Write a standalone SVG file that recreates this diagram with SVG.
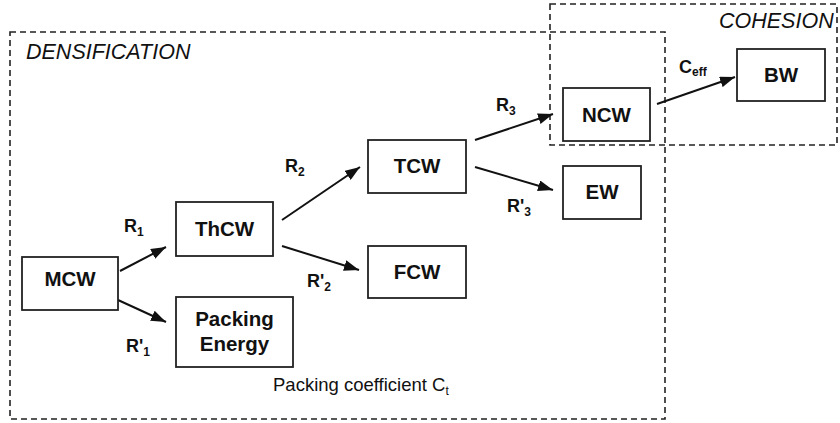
<svg xmlns="http://www.w3.org/2000/svg" width="840" height="423" viewBox="0 0 840 423">
<defs>
<marker id="ah" markerUnits="userSpaceOnUse" markerWidth="15" markerHeight="11" refX="15" refY="5.5" orient="auto">
<path d="M0,0 L15,5.5 L0,11 z" fill="#111"/>
</marker>
<style>
.box{fill:#fff;stroke:#222;stroke-width:1.8}
.zone{fill:none;stroke:#222;stroke-width:1.6;stroke-dasharray:6 4}
.nt{font-family:"Liberation Sans",Arial,sans-serif;font-weight:bold;font-size:20.5px;fill:#111;text-anchor:middle}
.lb{font-family:"Liberation Sans",Arial,sans-serif;font-weight:bold;font-size:18px;fill:#111}
.sub{font-size:12px}
.zt{font-family:"Liberation Sans",Arial,sans-serif;font-style:italic;font-size:21.5px;fill:#111}
.pc{font-family:"Liberation Sans",Arial,sans-serif;font-size:18.5px;fill:#111}
.ar{stroke:#111;stroke-width:2;fill:none;marker-end:url(#ah)}
</style>
</defs>
<g id="zones">
<rect class="zone" x="10" y="32" width="655" height="387"/>
<rect class="zone" x="550" y="4" width="287" height="141"/>
<text class="zt" x="26" y="59">DENSIFICATION</text>
<text class="zt" x="719" y="28">COHESION</text>
<text class="pc" x="273" y="391">Packing coefficient C<tspan class="sub" dy="4">t</tspan></text>
</g>
<g id="connectors">
<line class="ar" x1="120" y1="271" x2="166" y2="247"/>
<line class="ar" x1="118" y1="300" x2="166" y2="322"/>
<line class="ar" x1="282" y1="220" x2="360" y2="167"/>
<line class="ar" x1="282" y1="246" x2="359" y2="270"/>
<line class="ar" x1="475" y1="140" x2="553" y2="114"/>
<line class="ar" x1="475" y1="167" x2="553" y2="190"/>
<line class="ar" x1="657" y1="104" x2="735" y2="77"/>
<text class="lb" x="124" y="232">R<tspan class="sub" dy="4">1</tspan></text>
<text class="lb" x="126" y="352">R'<tspan class="sub" dy="4">1</tspan></text>
<text class="lb" x="285" y="172">R<tspan class="sub" dy="4">2</tspan></text>
<text class="lb" x="307" y="287">R'<tspan class="sub" dy="4">2</tspan></text>
<text class="lb" x="496" y="111">R<tspan class="sub" dy="4">3</tspan></text>
<text class="lb" x="507" y="212">R'<tspan class="sub" dy="4">3</tspan></text>
<text class="lb" x="679" y="73">C<tspan class="sub" dy="3">eff</tspan></text>
</g>
<g id="MCW"><rect class="box" x="22" y="257" width="96" height="53"/><text class="nt" x="70" y="286">MCW</text></g>
<g id="ThCW"><rect class="box" x="176" y="202" width="97" height="54"/><text class="nt" x="224.5" y="236">ThCW</text></g>
<g id="PackingEnergy"><rect class="box" x="176" y="297" width="117" height="70"/><text class="nt" x="234.5" y="326">Packing</text><text class="nt" x="234.5" y="351">Energy</text></g>
<g id="TCW"><rect class="box" x="368" y="140" width="98" height="53"/><text class="nt" x="417" y="173">TCW</text></g>
<g id="FCW"><rect class="box" x="368" y="246" width="98" height="52"/><text class="nt" x="417" y="279">FCW</text></g>
<g id="NCW"><rect class="box" x="563" y="88" width="87" height="53"/><text class="nt" x="606.5" y="122">NCW</text></g>
<g id="EW"><rect class="box" x="563" y="166" width="78" height="53"/><text class="nt" x="602" y="199">EW</text></g>
<g id="BW"><rect class="box" x="737" y="49" width="88" height="52"/><text class="nt" x="781" y="82">BW</text></g>
</svg>
